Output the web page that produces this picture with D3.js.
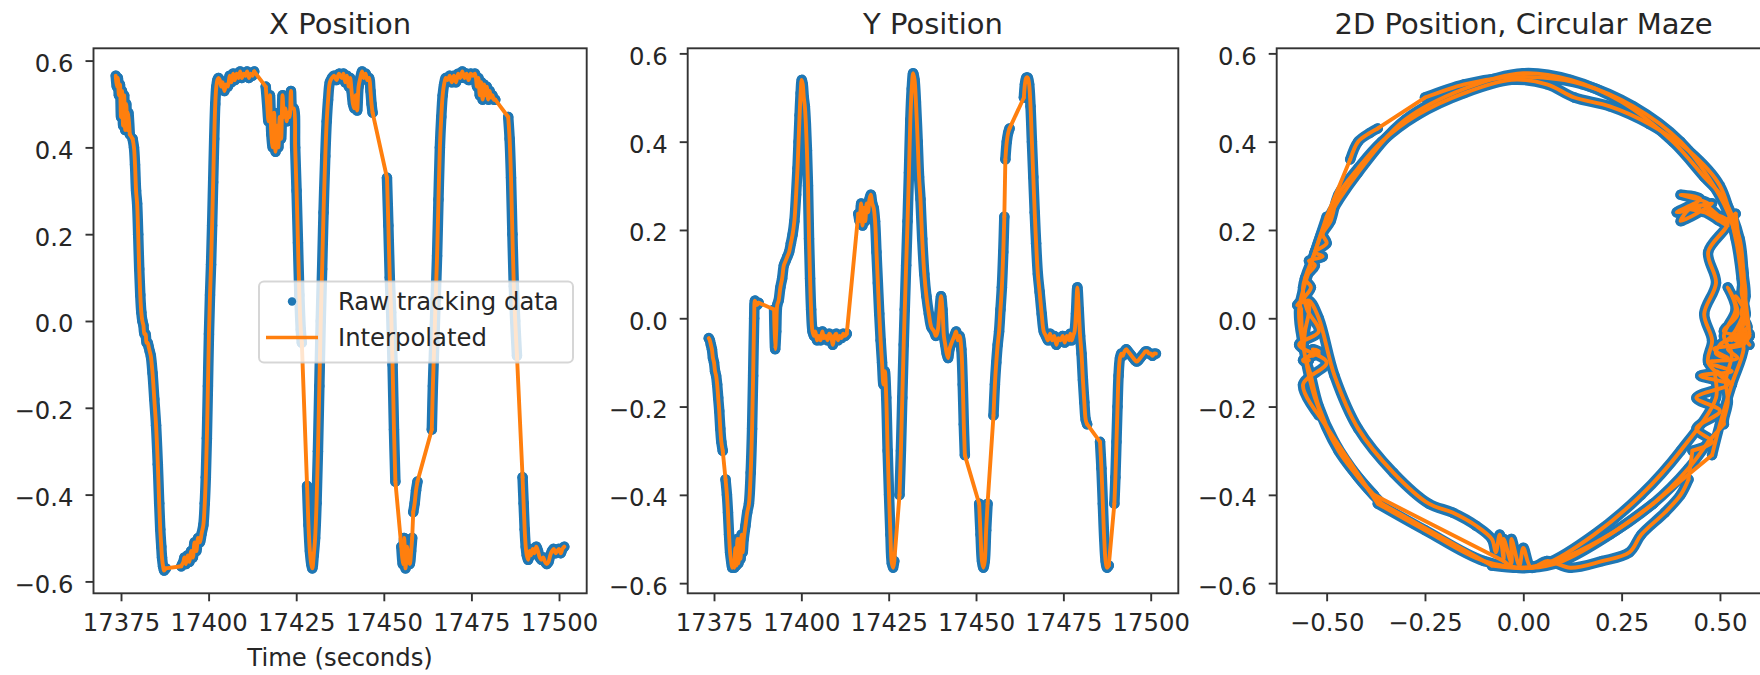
<!DOCTYPE html>
<html>
<head>
<meta charset="utf-8">
<script src="https://cdn.jsdelivr.net/npm/d3@7"></script>
<style>
  html, body { margin: 0; padding: 0; background: #fff; overflow: hidden; }
  svg { display: block; }
  text { font-family: "DejaVu Sans", sans-serif; fill: #262626; }
</style>
</head>
<body>
<svg id="chart" width="1760" height="675"></svg>
<script>
// Tracking samples: time (s) and position in the circular maze (normalised units)
const sampleTime = [
  17373.5, 17373.8, 17374.1, 17374.4, 17374.7, 17375.0, 17375.3, 17375.6, 17375.9, 17376.2, 17376.5, 17376.8, 17377.1, 17377.5,
  17378.3, 17378.7, 17379.0, 17379.3, 17379.6, 17379.9, 17380.2, 17380.5, 17380.8, 17381.1, 17381.4, 17381.7, 17382.0, 17382.3, 17382.6, 17382.9, 17383.2, 17383.5, 17384.0, 17384.5, 17385.0, 17385.5, 17385.9, 17386.2, 17386.5, 17386.7, 17387.0, 17387.3, 17387.8,
  17392.2, 17392.5, 17392.8, 17393.1, 17393.5, 17394.0, 17394.5, 17395.0, 17395.5, 17396.0, 17396.5, 17397.0, 17397.5, 17398.0, 17398.5, 17398.9, 17399.2, 17399.5, 17399.8, 17400.1, 17400.4, 17400.7, 17401.0, 17401.3, 17401.6, 17401.9, 17402.2, 17402.5, 17402.8, 17403.2, 17403.6, 17404.0, 17404.5, 17405.0, 17405.5, 17406.0, 17406.5, 17407.0, 17407.5, 17408.0, 17408.5, 17409.0, 17409.5, 17410.0, 17410.5, 17411.0, 17411.5, 17412.0, 17412.5, 17413.0,
  17416.3, 17416.7, 17417.1, 17417.5, 17417.9, 17418.3, 17418.7, 17419.1, 17419.5, 17419.9, 17420.3, 17420.7, 17421.1, 17421.5, 17421.9, 17422.3, 17422.7, 17423.1, 17423.5, 17423.9, 17424.3, 17424.7, 17425.1, 17425.5, 17425.9, 17426.3, 17426.6,
  17428.1, 17428.5, 17428.9, 17429.3, 17429.6, 17430.0, 17430.4, 17430.8, 17431.2, 17431.6, 17432.0, 17432.4, 17432.8, 17433.3, 17433.7, 17434.1, 17434.6, 17435.2, 17435.8, 17436.5, 17437.2, 17438.0, 17438.5, 17439.0, 17439.5, 17440.0, 17440.4, 17440.8, 17441.2, 17441.6, 17442.0, 17442.4, 17442.8, 17443.3, 17443.8, 17444.3, 17444.8, 17445.3, 17445.8, 17446.2, 17446.5, 17446.8,
  17450.9, 17451.3, 17451.7, 17452.1, 17452.5, 17452.9, 17453.3,
  17455.0, 17455.4, 17455.8, 17456.2, 17456.6, 17457.0, 17457.4, 17457.8, 17458.1,
  17458.4, 17458.8, 17459.2, 17459.6,
  17463.7, 17464.0, 17464.4, 17464.8, 17465.2, 17465.6, 17466.0, 17466.4, 17466.8, 17467.2, 17467.7, 17468.2, 17468.8, 17469.4, 17470.0, 17470.6, 17471.2, 17471.8, 17472.4, 17473.0, 17473.6, 17474.2, 17474.8, 17475.4, 17476.0, 17476.6, 17477.0, 17477.4, 17477.8, 17478.2, 17478.6, 17479.0, 17479.4, 17479.8, 17480.2, 17480.6, 17481.0, 17481.4, 17481.8,
  17485.5, 17485.9, 17486.3, 17486.7, 17487.1, 17487.5, 17488.0,
  17489.6, 17489.9, 17490.2, 17490.5, 17490.8, 17491.2, 17491.6, 17492.0, 17492.5, 17493.0, 17493.5, 17494.0, 17494.5, 17495.0, 17495.5, 17496.0, 17496.5, 17497.0, 17497.5, 17498.0, 17498.5, 17499.0, 17499.5, 17500.0, 17500.5, 17501.0, 17501.5
];

const posX = [
  0.565, 0.54, 0.56, 0.52, 0.545, 0.47, 0.53, 0.45, 0.52, 0.44, 0.50, 0.44, 0.48, 0.43,
  0.42, 0.40, 0.36, 0.30, 0.27, 0.20, 0.12, 0.06, 0.02, 0.0, -0.01, -0.03, -0.03, -0.05, -0.05, -0.06, -0.07, -0.08, -0.12, -0.18, -0.24, -0.33, -0.42, -0.48, -0.52, -0.545, -0.565, -0.575, -0.57,
  -0.565, -0.56, -0.555, -0.545, -0.56, -0.54, -0.555, -0.53, -0.545, -0.51, -0.53, -0.50, -0.51, -0.49, -0.47, -0.42, -0.36, -0.27, -0.15, -0.03, 0.06, 0.13, 0.22, 0.32, 0.42, 0.50, 0.54, 0.555, 0.56, 0.555, 0.54, 0.55, 0.53, 0.545, 0.54, 0.565, 0.55, 0.57, 0.555, 0.57, 0.56, 0.575, 0.56, 0.57, 0.565, 0.575, 0.56, 0.57, 0.565, 0.575,
  0.54, 0.50, 0.46, 0.52, 0.43, 0.40, 0.48, 0.39, 0.45, 0.40, 0.47, 0.42, 0.52, 0.47, 0.49, 0.46, 0.48, 0.47, 0.53, 0.49, 0.49, 0.40, 0.30, 0.18, 0.06, -0.02, -0.05,
  -0.38, -0.47, -0.53, -0.56, -0.57, -0.54, -0.50, -0.42, -0.30, -0.15, 0.0, 0.12, 0.25, 0.38, 0.46, 0.51, 0.55, 0.56, 0.565, 0.555, 0.57, 0.56, 0.57, 0.55, 0.565, 0.54, 0.56, 0.53, 0.50, 0.49, 0.52, 0.485, 0.54, 0.56, 0.575, 0.56, 0.57, 0.555, 0.56, 0.53, 0.50, 0.48,
  0.33, 0.22, 0.10, 0.02, -0.10, -0.25, -0.37,
  -0.52, -0.56, -0.50, -0.57, -0.52, -0.55, -0.56, -0.53, -0.50,
  -0.44, -0.42, -0.39, -0.37,
  -0.25, -0.15, -0.05, 0.05, 0.15, 0.28, 0.40, 0.47, 0.52, 0.545, 0.56, 0.555, 0.565, 0.55, 0.565, 0.55, 0.57, 0.56, 0.575, 0.56, 0.57, 0.555, 0.57, 0.565, 0.57, 0.54, 0.56, 0.52, 0.55, 0.51, 0.545, 0.52, 0.54, 0.51, 0.53, 0.515, 0.52, 0.51, 0.51,
  0.47, 0.42, 0.33, 0.20, 0.08, 0.0, -0.08,
  -0.36, -0.42, -0.48, -0.52, -0.54, -0.55, -0.53, -0.54, -0.525, -0.535, -0.52, -0.53, -0.545, -0.55, -0.545, -0.555, -0.56, -0.555, -0.54, -0.53, -0.525, -0.535, -0.53, -0.525, -0.535, -0.525, -0.52
];

const posY = [
  -0.045, -0.05, -0.06, -0.07, -0.09, -0.10, -0.12, -0.13, -0.15, -0.18, -0.21, -0.25, -0.28, -0.30,
  -0.365, -0.40, -0.44, -0.49, -0.53, -0.55, -0.565, -0.55, -0.565, -0.52, -0.56, -0.50, -0.555, -0.50, -0.545, -0.49, -0.53, -0.50, -0.47, -0.44, -0.42, -0.35, -0.25, -0.13, 0.0, 0.04, 0.035, 0.03, 0.035,
  0.02, -0.07, -0.03, 0.03, 0.04, 0.07, 0.09, 0.12, 0.13, 0.14, 0.15, 0.17, 0.19, 0.22, 0.28, 0.34, 0.40, 0.46, 0.51, 0.54, 0.53, 0.50, 0.48, 0.44, 0.38, 0.30, 0.18, 0.09, 0.02, -0.03, -0.04, -0.03, -0.05, -0.04, -0.05, -0.03, -0.045, -0.04, -0.05, -0.035, -0.04, -0.06, -0.04, -0.035, -0.05, -0.04, -0.045, -0.035, -0.04, -0.035,
  0.237, 0.22, 0.26, 0.21, 0.25, 0.22, 0.26, 0.24, 0.27, 0.28, 0.26, 0.25, 0.22, 0.15, 0.08, 0.01, -0.05, -0.10, -0.15, -0.12, -0.18, -0.30, -0.40, -0.49, -0.555, -0.565, -0.55,
  -0.40, -0.30, -0.18, -0.06, 0.02, 0.12, 0.22, 0.33, 0.45, 0.52, 0.555, 0.54, 0.49, 0.40, 0.32, 0.27, 0.18, 0.10, 0.05, 0.01, -0.02, -0.03, -0.04, -0.03, 0.01, 0.05, 0.02, -0.04, -0.06, -0.08, -0.09, -0.07, -0.06, -0.05, -0.04, -0.03, -0.05, -0.04, -0.07, -0.15, -0.24, -0.31,
  -0.42, -0.49, -0.55, -0.565, -0.55, -0.48, -0.42,
  -0.22, -0.15, -0.10, -0.06, -0.03, 0.02, 0.07, 0.15, 0.23,
  0.36, 0.40, 0.42, 0.43,
  0.50, 0.53, 0.545, 0.545, 0.53, 0.48, 0.40, 0.32, 0.24, 0.17, 0.10, 0.06, 0.01, -0.03, -0.04, -0.05, -0.035, -0.05, -0.04, -0.06, -0.045, -0.05, -0.04, -0.055, -0.04, -0.05, -0.035, -0.05, -0.04, -0.03, 0.01, 0.07, 0.02, -0.04, -0.08, -0.14, -0.19, -0.23, -0.24,
  -0.28, -0.34, -0.42, -0.50, -0.55, -0.565, -0.56,
  -0.42, -0.36, -0.28, -0.20, -0.13, -0.09, -0.08, -0.085, -0.075, -0.07, -0.075, -0.08, -0.085, -0.09, -0.095, -0.098, -0.095, -0.09, -0.085, -0.08, -0.075, -0.075, -0.08, -0.08, -0.085, -0.08, -0.08
];

// Intervals (s) where the tracker lost the animal; only the interpolated line spans them
const trackingGaps = [
  [17377.5, 17378.3], [17387.8, 17392.2], [17413.0, 17416.3], [17426.6, 17428.1],
  [17446.8, 17450.9], [17453.3, 17455.0], [17458.1, 17458.4], [17459.6, 17463.7],
  [17481.8, 17485.5], [17488.0, 17489.6]
];

const timeTicks = [17375, 17400, 17425, 17450, 17475, 17500];
const posTicks = [-0.6, -0.4, -0.2, 0.0, 0.2, 0.4, 0.6];
const mazeTicks = [-0.5, -0.25, 0.0, 0.25, 0.5];
const panelTitles = ["X Position", "Y Position", "2D Position, Circular Maze"];
const timeAxisLabel = "Time (seconds)";
const legendLabels = ["Raw tracking data", "Interpolated"];

// ---------------------------------------------------------------------------
const BLUE = "#1f77b4", ORANGE = "#ff7f0e", INK = "#262626", SPINE = "#333333";
const TOP = 48.3, BOTTOM = 593.3;
const TICK_FONT = 24.3, TITLE_FONT = 29;

const n = Math.min(sampleTime.length, posX.length, posY.length);
const samples = d3.range(n).map(i => ({ t: sampleTime[i], x: posX[i], y: posY[i] }));

const inGap = (a, b) => trackingGaps.some(g => a >= g[0] - 1e-6 && b <= g[1] + 1e-6);

// split the raw samples into continuous tracked runs
const runs = [];
let current = [samples[0]];
for (let i = 1; i < samples.length; i++) {
  if (inGap(samples[i - 1].t, samples[i].t)) { runs.push(current); current = [samples[i]]; }
  else current.push(samples[i]);
}
runs.push(current);
// straight bridges across the untracked intervals
const bridges = d3.range(runs.length - 1).map(k => [runs[k][runs[k].length - 1], runs[k + 1][0]]);

const panels = [
  { x0: 93.5, x1: 586.7, xDom: [17367.15, 17507.9], yDom: [-0.6274, 0.6283],
    px: d => d.t, py: d => d.x, xTicks: timeTicks, xFmt: d3.format("d"), xLabel: timeAxisLabel },
  { x0: 687.7, x1: 1178.3, xDom: [17367.47, 17507.9], yDom: [-0.623, 0.6115],
    px: d => d.t, py: d => d.y, xTicks: timeTicks, xFmt: d3.format("d") },
  { x0: 1276.7, x1: 1770.3, xDom: [-0.627, 0.628], yDom: [-0.623, 0.6115],
    px: d => d.x, py: d => d.y, xTicks: mazeTicks, xFmt: d3.format(".2f") }
];

const svg = d3.select("#chart");
svg.append("rect").attr("width", 1760).attr("height", 675).attr("fill", "#fff");
const defs = svg.append("defs");

panels.forEach((p, i) => {
  const xs = d3.scaleLinear().domain(p.xDom).range([p.x0, p.x1]);
  const ys = d3.scaleLinear().domain(p.yDom).range([BOTTOM, TOP]);

  defs.append("clipPath").attr("id", "plot-area-" + i)
    .append("rect").attr("x", p.x0).attr("y", TOP)
    .attr("width", p.x1 - p.x0).attr("height", BOTTOM - TOP);

  const g = svg.append("g");
  const plot = g.append("g").attr("clip-path", `url(#plot-area-${i})`);
  const smooth = d3.line().curve(d3.curveCatmullRom.alpha(0.5))
    .x(d => xs(p.px(d))).y(d => ys(p.py(d)));
  const straight = d3.line().x(d => xs(p.px(d))).y(d => ys(p.py(d)));

  // raw tracking data: densely sampled positions drawn as a band of dots
  plot.append("g").selectAll("path").data(runs).join("path")
    .attr("d", smooth)
    .attr("fill", "none").attr("stroke", BLUE).attr("stroke-width", 10.5)
    .attr("stroke-linejoin", "round").attr("stroke-linecap", "round");
  plot.append("g").selectAll("circle")
    .data(runs.flat())
    .join("circle")
    .attr("cx", d => xs(p.px(d))).attr("cy", d => ys(p.py(d)))
    .attr("r", 5.2).attr("fill", BLUE);

  // interpolated trajectory
  const interp = plot.append("g").attr("fill", "none").attr("stroke", ORANGE)
    .attr("stroke-width", 3.9).attr("stroke-linejoin", "round").attr("stroke-linecap", "round");
  interp.selectAll("path.run").data(runs).join("path").attr("class", "run").attr("d", smooth);
  interp.selectAll("path.bridge").data(bridges).join("path").attr("class", "bridge").attr("d", straight);

  // axes
  const xAxis = g.append("g").attr("transform", `translate(0,${BOTTOM})`)
    .call(d3.axisBottom(xs).tickValues(p.xTicks).tickFormat(p.xFmt)
      .tickSize(8).tickSizeOuter(0).tickPadding(12.5));
  const yAxis = g.append("g").attr("transform", `translate(${p.x0},0)`)
    .call(d3.axisLeft(ys).tickValues(posTicks).tickFormat(d3.format(".1f"))
      .tickSize(8).tickSizeOuter(0).tickPadding(12));
  [xAxis, yAxis].forEach(ax => {
    ax.select(".domain").remove();
    ax.attr("font-family", null).attr("font-size", null);
    ax.selectAll(".tick line").attr("stroke", SPINE).attr("stroke-width", 1.9);
    ax.selectAll(".tick text").attr("fill", INK)
      .style("font-family", "'DejaVu Sans', sans-serif")
      .style("font-size", TICK_FONT + "px");
  });
  yAxis.selectAll(".tick text").attr("dy", "0.45em");

  // spines
  g.append("rect").attr("x", p.x0).attr("y", TOP)
    .attr("width", p.x1 - p.x0).attr("height", BOTTOM - TOP)
    .attr("fill", "none").attr("stroke", SPINE).attr("stroke-width", 1.9);

  // title
  g.append("text").attr("x", (p.x0 + p.x1) / 2).attr("y", 34)
    .attr("text-anchor", "middle").style("font-size", TITLE_FONT + "px")
    .text(panelTitles[i]);

  if (p.xLabel) {
    g.append("text").attr("x", (p.x0 + p.x1) / 2).attr("y", 665.5)
      .attr("text-anchor", "middle").style("font-size", TICK_FONT + "px")
      .text(p.xLabel);
  }
});

// legend in the first panel
const lg = svg.append("g");
lg.append("rect").attr("x", 259).attr("y", 281.5).attr("width", 314).attr("height", 81)
  .attr("rx", 5).attr("fill", "#fff").attr("fill-opacity", 0.8)
  .attr("stroke", "#cccccc").attr("stroke-opacity", 0.8).attr("stroke-width", 2);
lg.append("circle").attr("cx", 292).attr("cy", 301.5).attr("r", 4.2).attr("fill", BLUE);
lg.append("line").attr("x1", 266).attr("x2", 318).attr("y1", 337.5).attr("y2", 337.5)
  .attr("stroke", ORANGE).attr("stroke-width", 3.6);
lg.selectAll("text.entry").data(legendLabels).join("text").attr("class", "entry")
  .attr("x", 338).attr("y", (d, i) => 310 + i * 36)
  .style("font-size", TICK_FONT + "px").text(d => d);
</script>
</body>
</html>
